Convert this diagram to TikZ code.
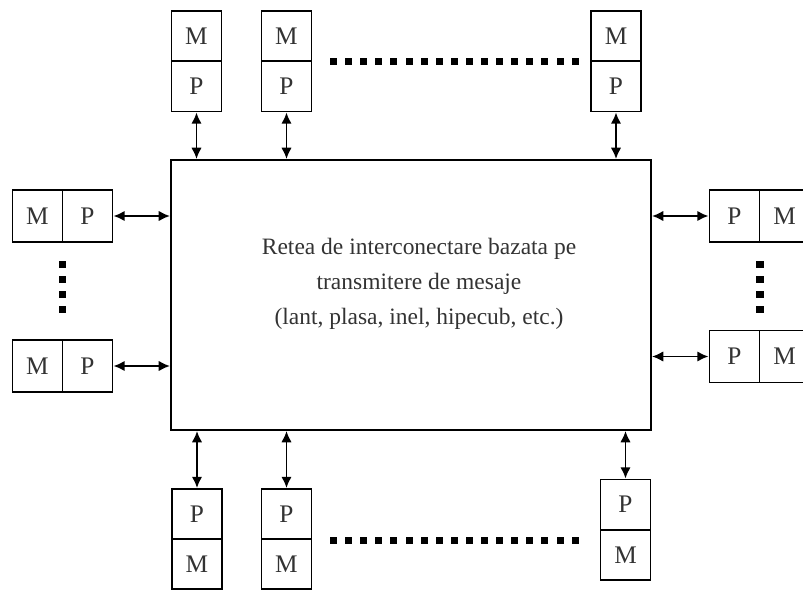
\documentclass[tikz,border=0pt]{standalone}
\usepackage{fontspec}
\setmainfont{Liberation Serif}
\usetikzlibrary{arrows.meta}
\begin{document}
\begin{tikzpicture}[>={Latex[length=8pt,width=7.5pt]}, x=0.025cm, y=-0.025cm,
  every node/.style={font=\fontsize{18}{20}\selectfont, text=black!80},
  cell/.style={draw=black, line width=1.4pt, minimum width=1.25cm, minimum height=1.25cm, inner sep=0pt},
  wcell/.style={cell, minimum height=1.3cm},
  link/.style={<->, line width=1.4pt}]
\clip (0,0) rectangle (803,591);
% retea
\node[draw=black, line width=1.4pt, minimum width=12cm, minimum height=6.75cm] (net) at (411,295) {};
\node[align=center, font=\fontsize{16.7}{25}\selectfont] (label) at (419,284) {Retea de interconectare bazata pe\\transmitere de mesaje\\(lant, plasa, inel, hipecub, etc.)};
% sus
\node[cell] (tm1) at (196.5,36) {M};
\node[cell] (tp1) at (196.5,86.5) {P};
\node[cell] (tm2) at (286.5,36) {M};
\node[cell] (tp2) at (286.5,86.5) {P};
\node[cell] (tm3) at (616,36) {M};
\node[cell] (tp3) at (616,86.5) {P};
\draw[link] (tp1.south) -- (tp1.south |- net.north);
\draw[link] (tp2.south) -- (tp2.south |- net.north);
\draw[link] (tp3.south) -- (tp3.south |- net.north);
% stanga
\node[wcell] (lm1) at (37.5,216) {M};
\node[wcell] (lp1) at (87.5,216) {P};
\node[wcell] (lm2) at (37.5,366) {M};
\node[wcell] (lp2) at (87.5,366) {P};
\draw[link] (lp1.east) -- (lp1.east -| net.west);
\draw[link] (lp2.east) -- (lp2.east -| net.west);
% dreapta
\node[wcell] (rp1) at (734.5,216) {P};
\node[wcell] (rm1) at (784.5,216) {M};
\node[wcell] (rp2) at (734.5,356.5) {P};
\node[wcell] (rm2) at (784.5,356.5) {M};
\draw[link] (rp1.west) -- (rp1.west -| net.east);
\draw[link] (rp2.west) -- (rp2.west -| net.east);
% jos
\node[cell] (bp1) at (197,514) {P};
\node[cell] (bm1) at (197,564) {M};
\node[cell] (bp2) at (286.5,514) {P};
\node[cell] (bm2) at (286.5,564) {M};
\node[cell] (bp3) at (625.5,504.5) {P};
\node[cell] (bm3) at (625.5,555) {M};
\draw[link] (bp1.north) -- (bp1.north |- net.south);
\draw[link] (bp2.north) -- (bp2.north |- net.south);
\draw[link] (bp3.north) -- (bp3.north |- net.south);
% puncte
\foreach \i in {0,...,16} {
  \fill (330+15.1*\i,58.5) rectangle ++(7,7);
  \fill (330+15.1*\i,536.5) rectangle ++(7,7);
}
\foreach \j in {0,...,3} {
  \fill (58.5,261+15*\j) rectangle ++(7.5,7);
  \fill (756,261+15*\j) rectangle ++(7.5,7);
}
\end{tikzpicture}
\end{document}
